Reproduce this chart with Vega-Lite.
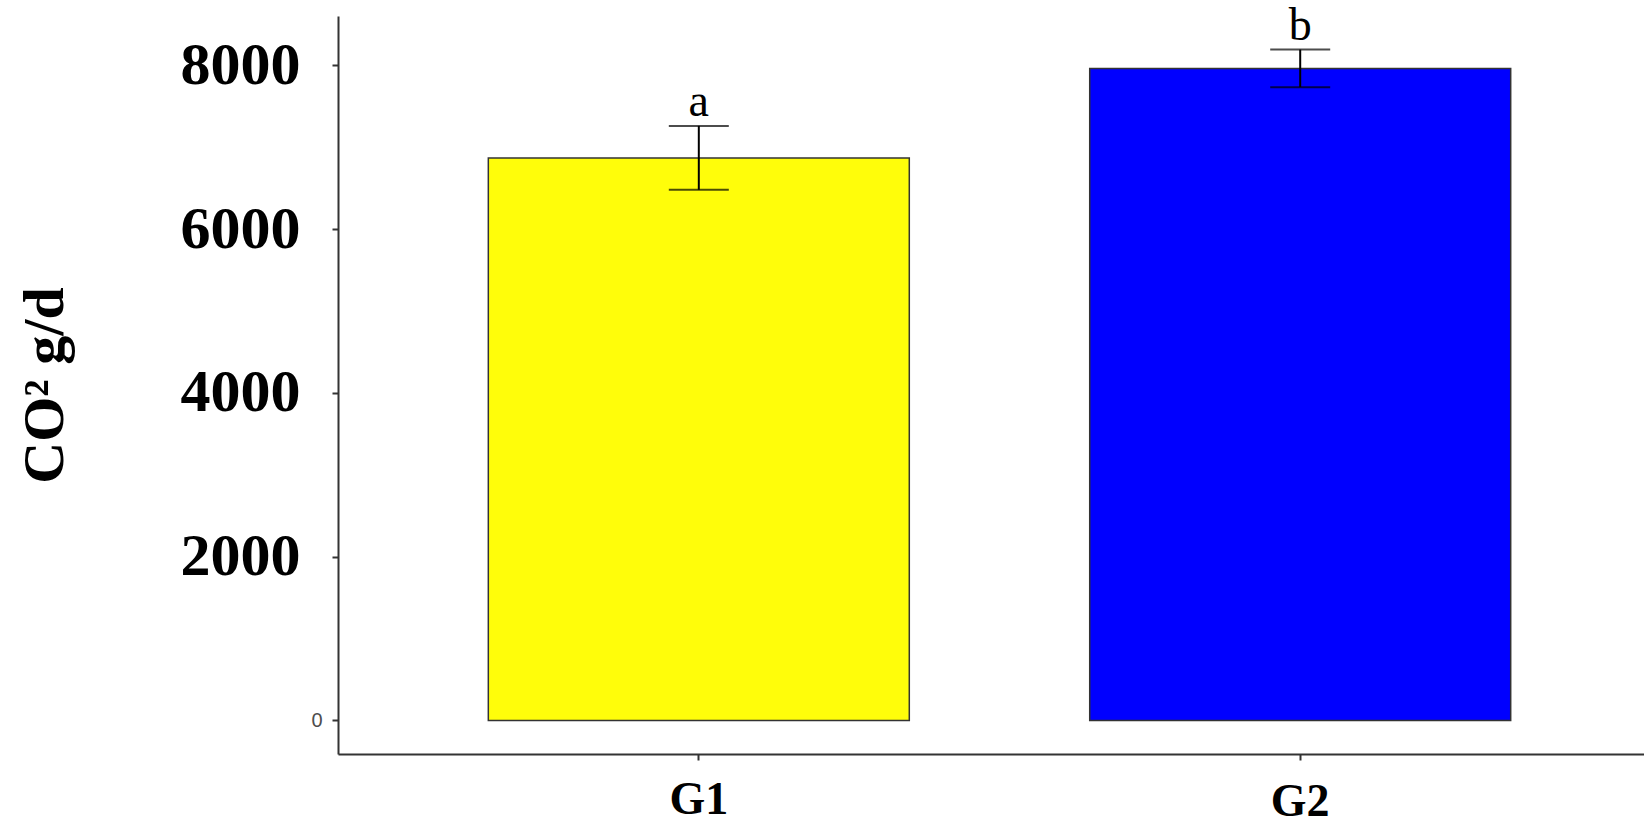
{
  "$schema": "https://vega.github.io/schema/vega-lite/v6.json",
  "width": 1306,
  "height": 738,
  "autosize": {"type": "none"},
  "padding": {"left": 338, "top": 16, "right": 0, "bottom": 71},
  "background": "white",
  "config": {"view": {"stroke": null}},
  "data": {"values": [
    {"group": "G1", "mean": 6866, "lower": 6479, "upper": 7259, "letter": "a"},
    {"group": "G2", "mean": 7961, "lower": 7732, "upper": 8191, "letter": "b"}
  ]},
  "encoding": {
    "x": {
      "field": "group", "type": "nominal",
      "scale": {"paddingInner": 0.3, "paddingOuter": 0.2358, "align": 0.53},
      "axis": {
        "title": null,
        "labelAngle": 0,
        "labelFont": "Liberation Serif",
        "labelFontWeight": "bold",
        "labelFontSize": 46,
        "labelColor": "black",
        "labelBaseline": "top",
        "labelPadding": {"condition": {"test": "datum.value === 'G2'", "value": 19}, "value": 17},
        "tickSize": 6,
        "tickWidth": 2,
        "tickColor": "#333333",
        "domainColor": "#333333",
        "domainWidth": 2,
        "grid": false
      }
    }
  },
  "resolve": {"axis": {"y": "independent"}},
  "layer": [
    {
      "mark": {"type": "bar", "stroke": "#333333", "strokeWidth": 1.5},
      "encoding": {
        "y": {
          "field": "mean", "type": "quantitative",
          "scale": {"domain": [-410, 8601], "nice": false, "zero": false},
          "axis": {
            "title": "CO² g/d",
            "titleFont": "Liberation Serif",
            "titleFontWeight": "bold",
            "titleFontSize": 58,
            "titleColor": "black",
            "titlePadding": 106,
            "values": [0, 2000, 4000, 6000, 8000],
            "labelFont": {"condition": {"test": "datum.value === 0", "value": "Liberation Sans"}, "value": "Liberation Serif"},
            "labelFontSize": {"condition": {"test": "datum.value === 0", "value": 20}, "value": 60},
            "labelFontWeight": {"condition": {"test": "datum.value === 0", "value": "normal"}, "value": "bold"},
            "labelColor": {"condition": {"test": "datum.value === 0", "value": "#4D4D4D"}, "value": "black"},
            "labelPadding": {"condition": {"test": "datum.value === 0", "value": 10}, "value": 32},
            "tickSize": 6,
            "tickWidth": 2,
            "tickColor": "#333333",
            "domainColor": "#333333",
            "domainWidth": 2,
            "grid": false,
            "format": "d"
          }
        },
        "color": {
          "field": "group", "type": "nominal",
          "scale": {"domain": ["G1", "G2"], "range": ["#FFFD0A", "#0000FF"]},
          "legend": null
        }
      }
    },
    {
      "mark": {"type": "rule", "color": "black", "strokeWidth": 2},
      "encoding": {
        "y": {"field": "lower", "type": "quantitative", "axis": null},
        "y2": {"field": "upper"}
      }
    },
    {
      "mark": {"type": "tick", "color": "black", "thickness": 2, "size": 60},
      "encoding": {"y": {"field": "upper", "type": "quantitative", "axis": null}}
    },
    {
      "mark": {"type": "tick", "color": "black", "thickness": 2, "size": 60},
      "encoding": {"y": {"field": "lower", "type": "quantitative", "axis": null}}
    },
    {
      "mark": {"type": "text", "font": "Liberation Serif", "fontSize": 46, "baseline": "alphabetic", "dy": -10, "color": "black"},
      "encoding": {
        "y": {"field": "upper", "type": "quantitative", "axis": null},
        "text": {"field": "letter"}
      }
    }
  ]
}
